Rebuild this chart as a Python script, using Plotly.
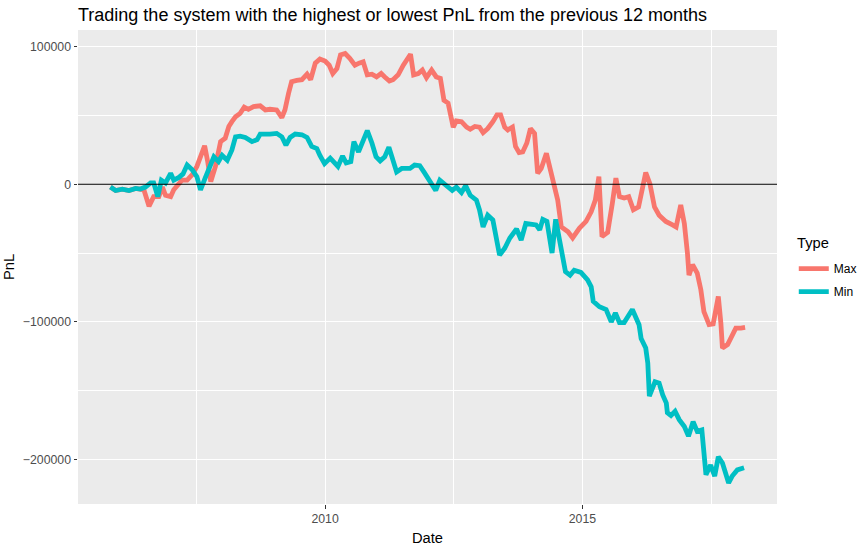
import plotly.graph_objects as go

# PnL of the two selection rules (x = decimal year)
min_dates = [
    2005.83, 2005.93, 2006.06, 2006.19, 2006.32, 2006.41, 2006.51, 2006.61, 2006.67, 2006.75,
    2006.82, 2006.90, 2007.00, 2007.06, 2007.16, 2007.24, 2007.32, 2007.42, 2007.51, 2007.58,
    2007.67, 2007.77, 2007.84, 2007.93, 2008.00, 2008.10, 2008.19, 2008.26, 2008.35, 2008.45,
    2008.58, 2008.68, 2008.74, 2008.93, 2009.06, 2009.16, 2009.24, 2009.32, 2009.42, 2009.55,
    2009.65, 2009.74, 2009.84, 2009.90, 2009.99, 2010.10, 2010.17, 2010.25, 2010.34, 2010.41,
    2010.50, 2010.56, 2010.65, 2010.74, 2010.82, 2010.91, 2010.99, 2011.07, 2011.16, 2011.24,
    2011.31, 2011.39, 2011.49, 2011.65, 2011.74, 2011.84, 2011.92, 2012.02, 2012.09, 2012.15,
    2012.23, 2012.36, 2012.47, 2012.55, 2012.65, 2012.73, 2012.82, 2012.94, 2013.00, 2013.07,
    2013.16, 2013.26, 2013.33, 2013.39, 2013.49, 2013.59, 2013.72, 2013.81, 2013.90, 2014.01,
    2014.10, 2014.17, 2014.23, 2014.31, 2014.41, 2014.48, 2014.53, 2014.61, 2014.67, 2014.76,
    2014.84, 2014.97, 2015.10, 2015.17, 2015.21, 2015.33, 2015.46, 2015.56, 2015.64, 2015.72,
    2015.81, 2015.97, 2016.10, 2016.14, 2016.23, 2016.27, 2016.30, 2016.41, 2016.49, 2016.56,
    2016.63, 2016.65, 2016.72, 2016.80, 2016.88, 2016.98, 2017.06, 2017.15, 2017.23, 2017.32,
    2017.36, 2017.40, 2017.49, 2017.57, 2017.64, 2017.72, 2017.77, 2017.84, 2017.91, 2018.01,
    2018.14,
]
min_pnl = [
    -2000, -4500, -3500, -4500, -3000, -3500, -2000, 1000, 1000, -9000,
    3000, 1000, 8000, 3000, 5000, 7500, 14000, 10500, 5500, -4000,
    4500, 13000, 20000, 16500, 21000, 17500, 25000, 34500, 35000, 34000,
    31000, 32500, 36500, 36500, 37000, 34500, 28500, 34000, 36500, 36000,
    34000, 27500, 26000, 21000, 15000, 19000, 16500, 13000, 20500, 15500,
    16500, 31000, 23500, 32000, 39000, 30000, 20000, 17000, 20000, 27000,
    17500, 9000, 11500, 11500, 14000, 13500, 9000, 2500, -2000, -4500,
    3000, -500, -4500, -2000, -6000, -1000, -8000, -11500, -18500, -31000,
    -22500, -26000, -39000, -51500, -46500, -39000, -32500, -40500, -28500, -29000,
    -29500, -33000, -25500, -27000, -50000, -25500, -35500, -50000, -63500, -66000,
    -62500, -64000, -69500, -74500, -85000, -89000, -91000, -100000, -93500, -100500,
    -100500, -91000, -102000, -112000, -119000, -130000, -154000, -143500, -144500, -153000,
    -159000, -166000, -168000, -165000, -171000, -176000, -183000, -172500, -179500, -178500,
    -198000, -211000, -204000, -212000, -198000, -202500, -208500, -217000, -212000, -207500,
    -206000,
]

max_dates = [
    2005.83, 2005.93, 2006.06, 2006.19, 2006.32, 2006.41, 2006.48, 2006.58, 2006.67, 2006.77,
    2006.84, 2006.90, 2007.00, 2007.06, 2007.13, 2007.22, 2007.32, 2007.42, 2007.51, 2007.58,
    2007.66, 2007.72, 2007.78, 2007.87, 2007.97, 2008.06, 2008.13, 2008.19, 2008.26, 2008.35,
    2008.43, 2008.51, 2008.61, 2008.74, 2008.84, 2008.93, 2009.06, 2009.16, 2009.22, 2009.29,
    2009.35, 2009.45, 2009.55, 2009.65, 2009.72, 2009.81, 2009.90, 2010.00, 2010.08, 2010.15,
    2010.23, 2010.30, 2010.39, 2010.48, 2010.58, 2010.66, 2010.74, 2010.82, 2010.91, 2011.00,
    2011.09, 2011.16, 2011.25, 2011.32, 2011.42, 2011.52, 2011.60, 2011.66, 2011.72, 2011.81,
    2011.89, 2011.97, 2012.07, 2012.16, 2012.24, 2012.31, 2012.39, 2012.44, 2012.49, 2012.55,
    2012.65, 2012.75, 2012.82, 2012.91, 2013.00, 2013.07, 2013.16, 2013.26, 2013.34, 2013.41,
    2013.49, 2013.55, 2013.64, 2013.70, 2013.77, 2013.84, 2013.92, 2013.99, 2014.07, 2014.13,
    2014.20, 2014.30, 2014.37, 2014.46, 2014.52, 2014.59, 2014.72, 2014.81, 2014.94, 2015.07,
    2015.17, 2015.25, 2015.32, 2015.38, 2015.49, 2015.58, 2015.65, 2015.72, 2015.81, 2015.90,
    2015.99, 2016.09, 2016.16, 2016.23, 2016.31, 2016.40, 2016.49, 2016.62, 2016.75, 2016.82,
    2016.91, 2016.98, 2017.04, 2017.07, 2017.14, 2017.23, 2017.30, 2017.36, 2017.46, 2017.54,
    2017.59, 2017.64, 2017.69, 2017.72, 2017.82, 2017.91, 2017.98, 2018.08, 2018.16,
]
max_pnl = [
    -2000, -4500, -3500, -4500, -3000, -3500, -4000, -16000, -9000, -9000,
    -2000, -8000, -9000, -4000, -500, 3000, 3000, 7000, 13000, 20000,
    28000, 16500, 2000, 13000, 31000, 33500, 42000, 45500, 49000, 51500,
    56000, 54500, 56500, 57000, 54000, 54500, 54000, 48500, 54000, 66000,
    74500, 75500, 76000, 80000, 76000, 88000, 91000, 89500, 86500, 80500,
    84000, 94000, 95000, 91500, 86500, 88000, 89000, 79500, 80000, 78000,
    80500, 78000, 75000, 76000, 79500, 86500, 91500, 94500, 79500, 80500,
    83000, 77500, 83000, 78000, 77000, 61000, 59000, 51500, 41500, 46000,
    45500, 41500, 40000, 42000, 41500, 37500, 40500, 45500, 50500, 50500,
    41500, 39500, 41500, 27500, 23000, 23500, 30000, 40500, 37000, 8000,
    11500, 22500, 11500, 500, -11500, -31000, -34500, -39000, -32000, -27000,
    -20000, -11500, 5500, -38000, -35000, -14000, 4500, -9000, -10000, -9000,
    -18500, -16500, -2000, 8500, 500, -16500, -22500, -27000, -29500, -31000,
    -15000, -28500, -50000, -66000, -58500, -64500, -76500, -92500, -102000, -101500,
    -91500, -81500, -101000, -119000, -116500, -110500, -104500, -104500, -104000,
]

series = [
    ("Max", max_dates, max_pnl, "#F8766D"),
    ("Min", min_dates, min_pnl, "#00BFC4"),
]

FONT = "Liberation Sans, Arial, sans-serif"

fig = go.Figure()

for name, dates, pnl, colour in series:
    fig.add_trace(
        go.Scatter(
            x=dates,
            y=pnl,
            name=name,
            legendgroup=name,
            mode="lines",
            line=dict(color=colour, width=4.8),
        )
    )

fig.add_hline(y=0, line=dict(color="black", width=1))

tick_font = dict(family=FONT, size=12.3, color="#4D4D4D")
title_font = dict(family=FONT, size=14.7, color="black")

# legend title drawn as its own label so the gap above the keys matches ggplot
fig.add_annotation(
    text="Type",
    xref="paper",
    yref="paper",
    x=1.0258,
    y=0.5506,
    xanchor="left",
    yanchor="middle",
    showarrow=False,
    font=title_font,
)

fig.update_layout(
    width=865,
    height=551,
    margin=dict(l=78, r=88, t=30, b=47, autoexpand=False),
    paper_bgcolor="white",
    plot_bgcolor="#EBEBEB",
    font=dict(family=FONT),
    title=dict(
        text="Trading the system with the highest or lowest PnL from the previous 12 months",
        x=0,
        xref="paper",
        xanchor="left",
        y=1 - 15 / 551,
        yref="container",
        yanchor="middle",
        font=dict(family=FONT, size=18, color="black"),
    ),
    xaxis=dict(
        range=[2005.20, 2018.78],
        tick0=2010,
        dtick=5,
        tickformat="d",
        showgrid=True,
        gridcolor="white",
        gridwidth=1.4,
        minor=dict(dtick=2.5, tick0=2010, showgrid=True, gridcolor="white", gridwidth=0.7),
        zeroline=False,
        ticks="outside",
        ticklen=3.5,
        tickcolor="#333333",
        tickfont=tick_font,
        title=dict(text="Date", font=title_font, standoff=7),
        showline=False,
    ),
    yaxis=dict(
        range=[-232300, 112100],
        tick0=0,
        dtick=100000,
        tickformat="d",
        showgrid=True,
        gridcolor="white",
        gridwidth=1.4,
        minor=dict(dtick=50000, tick0=0, showgrid=True, gridcolor="white", gridwidth=0.7),
        zeroline=False,
        ticks="outside",
        ticklen=3.5,
        tickcolor="#333333",
        tickfont=tick_font,
        title=dict(text="PnL", font=title_font, standoff=4),
        showline=False,
    ),
    legend=dict(
        x=1.024,
        xanchor="left",
        y=0.527,
        yanchor="top",
        font=dict(family=FONT, size=12, color="black"),
        bgcolor="white",
        itemwidth=30,
        tracegroupgap=4,
    ),
    showlegend=True,
)

# the page's default body margin would shift the figure by 8px
fig.write_html(
    "out.html",
    config={"displayModeBar": False},
    post_script="document.body.style.margin = '0';",
)
